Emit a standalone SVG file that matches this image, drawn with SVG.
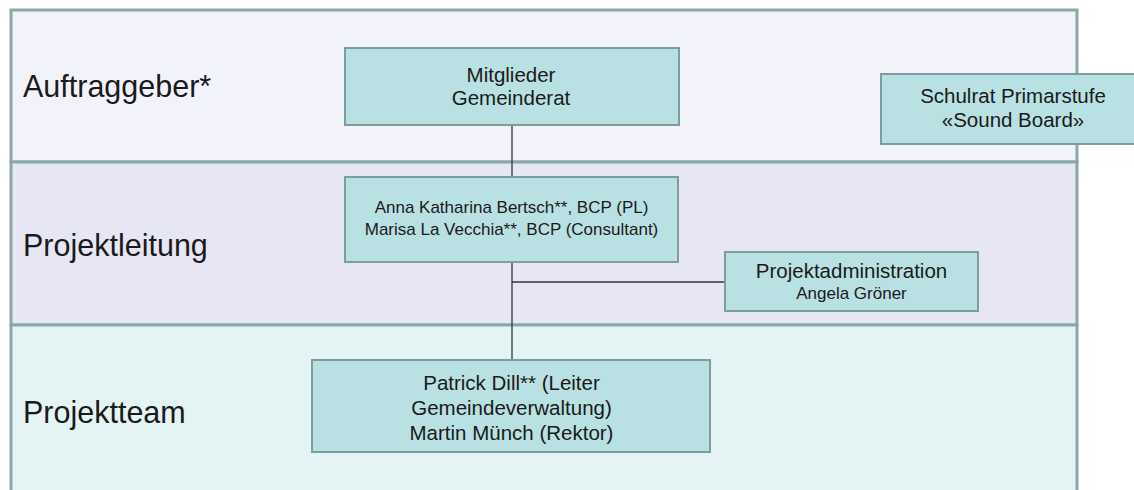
<svg xmlns="http://www.w3.org/2000/svg" width="1134" height="490" viewBox="0 0 1134 490">
<style>
.lane{stroke:#8ba7a8;stroke-width:3}
.node{fill:#b9e0e2;stroke:#809d9e;stroke-width:2}
.lbl{font-family:"Liberation Sans",Arial,sans-serif;font-size:30.5px;fill:#1a1a1a}
.t{font-family:"Liberation Sans",Arial,sans-serif;font-size:20.5px;fill:#1a1a1a;text-anchor:middle}
.s{font-family:"Liberation Sans",Arial,sans-serif;font-size:17px;fill:#1a1a1a;text-anchor:middle}
.c{stroke:#333;stroke-width:1.3;fill:none}
</style>
<rect width="1134" height="490" fill="#ffffff"/>
<g id="lanes">
<rect class="lane" x="11" y="10" width="1066" height="152" fill="#f2f2fa"/>
<rect class="lane" x="11" y="162" width="1066" height="163" fill="#e7e6f4"/>
<rect class="lane" x="11" y="325" width="1066" height="180" fill="#e4f3f4"/>
<text class="lbl" x="23" y="97">Auftraggeber*</text>
<text class="lbl" x="23" y="256">Projektleitung</text>
<text class="lbl" x="23" y="423">Projektteam</text>
</g>
<g id="connectors">
<line class="c" x1="512" y1="125" x2="512" y2="176"/>
<line class="c" x1="512" y1="262" x2="512" y2="360"/>
<line class="c" x1="512" y1="282" x2="725" y2="282"/>
</g>
<g id="n-gemeinderat">
<rect class="node" x="345" y="48" width="334" height="77"/>
<text class="t" x="511" y="82">Mitglieder</text>
<text class="t" x="511" y="105">Gemeinderat</text>
</g>
<g id="n-schulrat">
<rect class="node" x="881" y="74" width="264" height="70"/>
<text class="t" x="1013" y="103">Schulrat Primarstufe</text>
<text class="t" x="1013" y="127">«Sound Board»</text>
</g>
<g id="n-projektleitung">
<rect class="node" x="345" y="177" width="333" height="85"/>
<text class="s" x="511.5" y="213">Anna Katharina Bertsch**, BCP (PL)</text>
<text class="s" x="511.5" y="235">Marisa La Vecchia**, BCP (Consultant)</text>
</g>
<g id="n-admin">
<rect class="node" x="725" y="252" width="253" height="59"/>
<text class="t" x="851.5" y="278">Projektadministration</text>
<text class="s" x="851.5" y="299">Angela Gröner</text>
</g>
<g id="n-team">
<rect class="node" x="312" y="360" width="398" height="92"/>
<text class="t" x="511.5" y="390">Patrick Dill** (Leiter</text>
<text class="t" x="511.5" y="415">Gemeindeverwaltung)</text>
<text class="t" x="511.5" y="440">Martin Münch (Rektor)</text>
</g>
</svg>
